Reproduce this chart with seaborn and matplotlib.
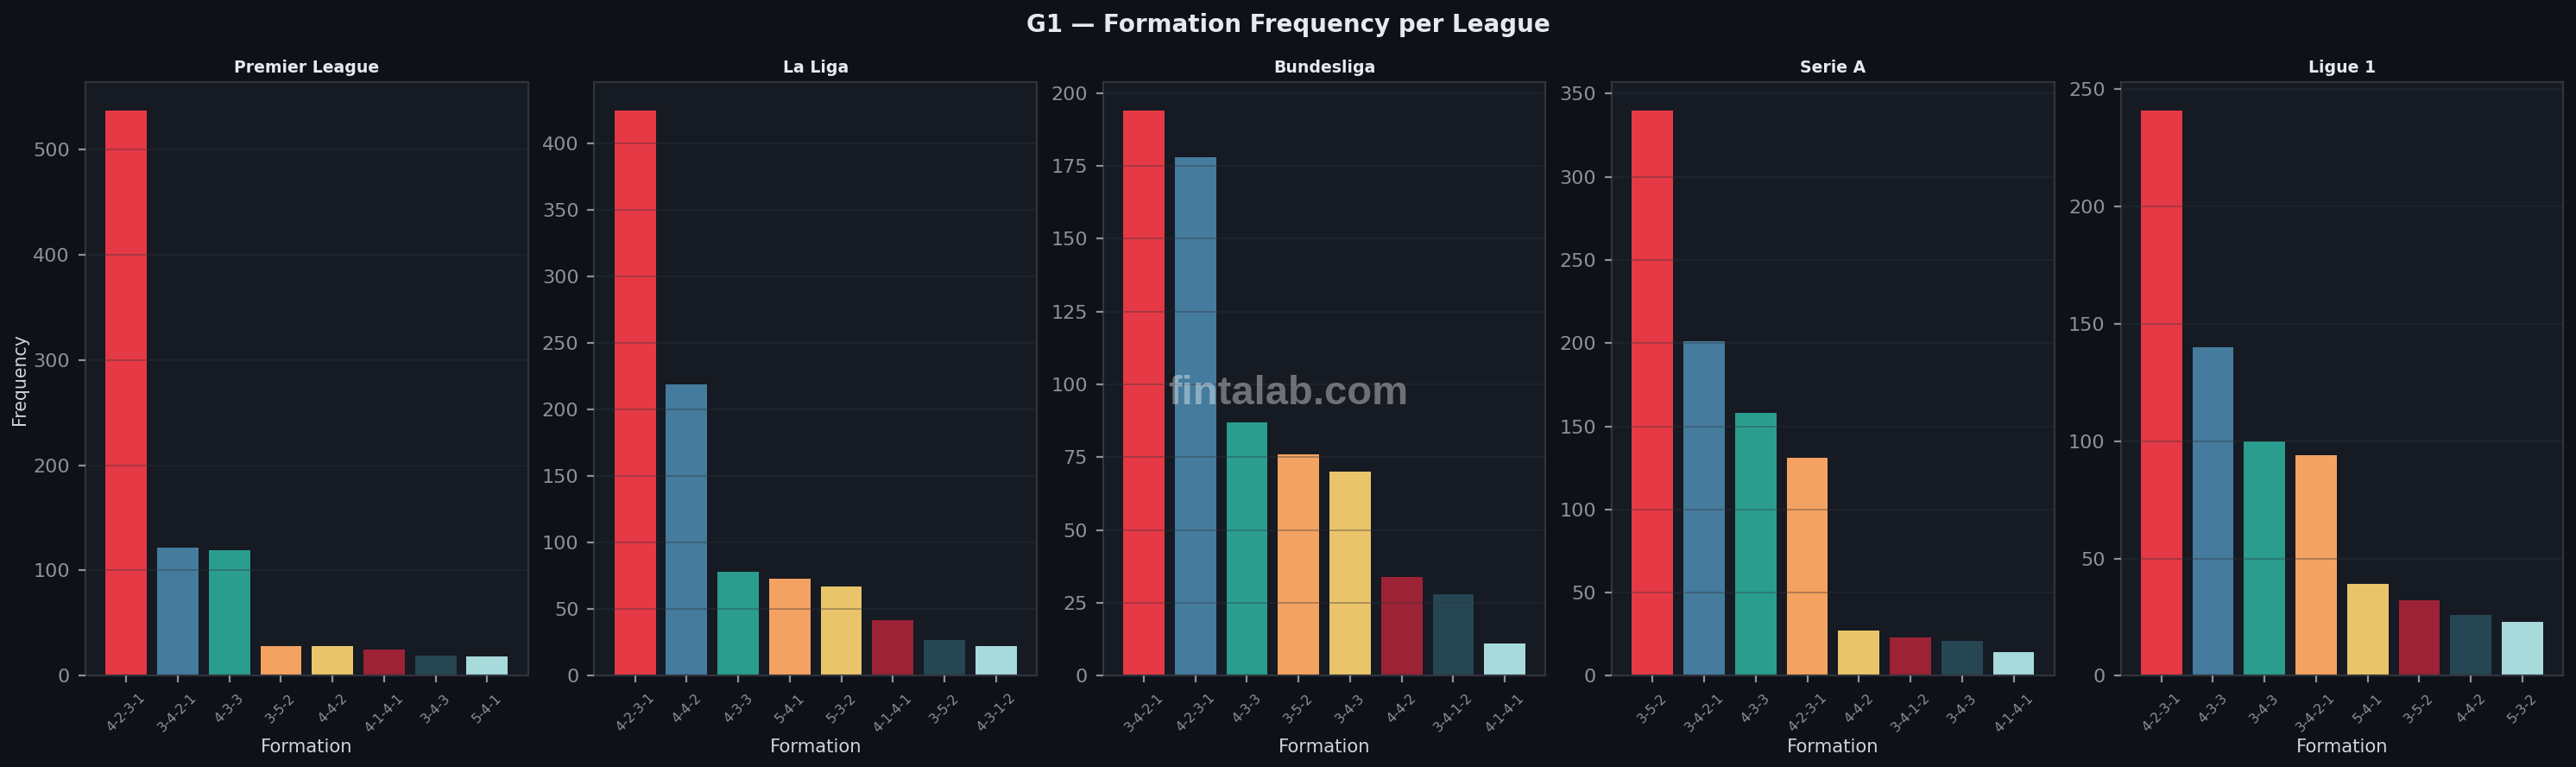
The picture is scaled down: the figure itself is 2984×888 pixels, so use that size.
import matplotlib.pyplot as plt
import pandas as pd
import seaborn as sns

# formation counts per league
leagues = ["Premier League", "La Liga", "Bundesliga", "Serie A", "Ligue 1"]

pl_formations = ["4-2-3-1", "3-4-2-1", "4-3-3", "3-5-2", "4-4-2", "4-1-4-1", "3-4-3", "5-4-1"]
pl_counts = [537, 122, 119, 28, 28, 25, 19, 18]

laliga_formations = ["4-2-3-1", "4-4-2", "4-3-3", "5-4-1", "5-3-2", "4-1-4-1", "3-5-2", "4-3-1-2"]
laliga_counts = [425, 219, 78, 73, 67, 42, 27, 22]

bundes_formations = ["3-4-2-1", "4-2-3-1", "4-3-3", "3-5-2", "3-4-3", "4-4-2", "3-4-1-2", "4-1-4-1"]
bundes_counts = [194, 178, 87, 76, 70, 34, 28, 11]

seriea_formations = ["3-5-2", "3-4-2-1", "4-3-3", "4-2-3-1", "4-4-2", "3-4-1-2", "3-4-3", "4-1-4-1"]
seriea_counts = [340, 201, 158, 131, 27, 23, 21, 14]

ligue1_formations = ["4-2-3-1", "4-3-3", "3-4-3", "3-4-2-1", "5-4-1", "3-5-2", "4-4-2", "5-3-2"]
ligue1_counts = [241, 140, 100, 94, 39, 32, 26, 23]

formations = [pl_formations, laliga_formations, bundes_formations, seriea_formations, ligue1_formations]
counts = [pl_counts, laliga_counts, bundes_counts, seriea_counts, ligue1_counts]

palette = ["#E63946", "#457B9D", "#2A9D8F", "#F4A261", "#E9C46A", "#9D2235", "#264653", "#A8DADC"]

BG = "#0E1117"
PANEL = "#161A22"
EDGE = "#30343C"

sns.set_theme(style="dark")
plt.rcParams["font.family"] = ["DejaVu Sans"]

fig, axes = plt.subplots(1, 5, figsize=(14.92, 4.44), dpi=200)
fig.patch.set_facecolor(BG)
fig.subplots_adjust(left=0.0332, right=0.995, top=0.893, bottom=0.119, wspace=0.15)

for i, ax in enumerate(axes):
    df = pd.DataFrame({"Formation": formations[i], "Frequency": counts[i]})
    sns.barplot(data=df, x="Formation", y="Frequency", hue="Formation",
                palette=palette, legend=False, ax=ax, width=0.8, saturation=1,
                linewidth=0, edgecolor="none")
    n = len(formations[i])
    ax.set_xlim(-0.79, n - 1 + 0.79)
    ax.set_ylim(0, max(counts[i]) * 1.05)
    ax.set_facecolor(PANEL)
    ax.set_axisbelow(False)
    ax.yaxis.grid(True, color=EDGE, alpha=0.4, linewidth=0.6)
    ax.xaxis.grid(False)
    for s in ax.spines.values():
        s.set_visible(True)
        s.set_color(EDGE)
        s.set_linewidth(0.8)
    ax.set_title(leagues[i], fontsize=6.8, fontweight="bold", color="#E6E9EF", pad=4)
    ax.tick_params(axis="y", colors="#8B929C", labelsize=8, length=3, width=0.8, left=True)
    ax.tick_params(axis="x", colors="#8B929C", labelsize=5.6, length=3, width=0.8, bottom=True)
    plt.setp(ax.get_xticklabels(), rotation=45, ha="center")
    ax.set_xlabel("Formation", fontsize=7.6, color="#D0D4DC", labelpad=1.5)
    if i == 0:
        ax.set_ylabel("Frequency", fontsize=7.4, color="#D0D4DC", labelpad=2)
    else:
        ax.set_ylabel("")

fig.suptitle("G1 — Formation Frequency per League", fontsize=10, fontweight="bold",
             color="#E6E9EF", y=0.983)

fig.text(0.5, 0.487, "fintalab.com", fontsize=17, fontweight="bold",
         family="Liberation Sans", color="white", alpha=0.38,
         ha="center", va="center")

fig.savefig("out.png", dpi=200, facecolor=BG)
